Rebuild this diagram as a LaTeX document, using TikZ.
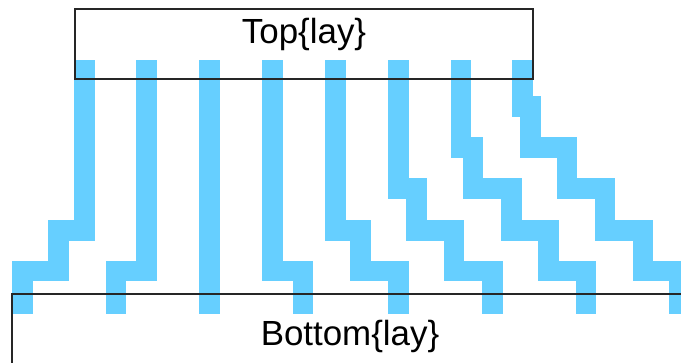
\documentclass[tikz,border=0pt]{standalone}
\usepackage{fontspec}
\setmainfont{Liberation Sans}
\definecolor{wireblue}{RGB}{102,207,255}
\begin{document}
\begin{tikzpicture}[x=1pt,y=-1pt,
  wire/.style={draw=wireblue,line width=20.5pt,line join=miter,line cap=butt},
  layerbox/.style={draw=black!85,line width=1.5pt},
  layertext/.style={anchor=base,inner sep=0pt,font=\fontsize{34.9}{40}\selectfont}]
\useasboundingbox (0,0) rectangle (681,362);
\clip (0,0) rectangle (681,362);
% wires
\draw[wire] (84.5,60) -- (84.5,230.5) -- (58.5,230.5) -- (58.5,271) -- (22.5,271) -- (22.5,314);
\draw[wire] (146.5,60) -- (146.5,271) -- (116,271) -- (116,314);
\draw[wire] (209.5,60) -- (209.5,314);
\draw[wire] (272.5,60) -- (272.5,271) -- (303,271) -- (303,314);
\draw[wire] (335.5,60) -- (335.5,230.5) -- (360.5,230.5) -- (360.5,271) -- (398.5,271) -- (398.5,314);
\draw[wire] (398.5,60) -- (398.5,188.5) -- (416.5,188.5) -- (416.5,230.5) -- (454,230.5) -- (454,271) -- (492.5,271) -- (492.5,314);
\draw[wire] (461,60) -- (461,147.5) -- (473,147.5) -- (473,188.5) -- (511.5,188.5) -- (511.5,230.5) -- (548.5,230.5) -- (548.5,271) -- (586,271) -- (586,314);
\draw[wire] (522.5,60) -- (522.5,106.5) -- (530.5,106.5) -- (530.5,147.5) -- (567,147.5) -- (567,188.5) -- (605,188.5) -- (605,230.5) -- (643,230.5) -- (643,271) -- (679,271) -- (679,314);
% layer boxes
\draw[layerbox] (75,9) rectangle (533,79);
\draw[layerbox] (12,294) rectangle (688,380);
\node[layertext] (toplabel) at (304,43) {Top\{lay\}};
\node[layertext] (bottomlabel) at (350,345) {Bottom\{lay\}};
\end{tikzpicture}
\end{document}
